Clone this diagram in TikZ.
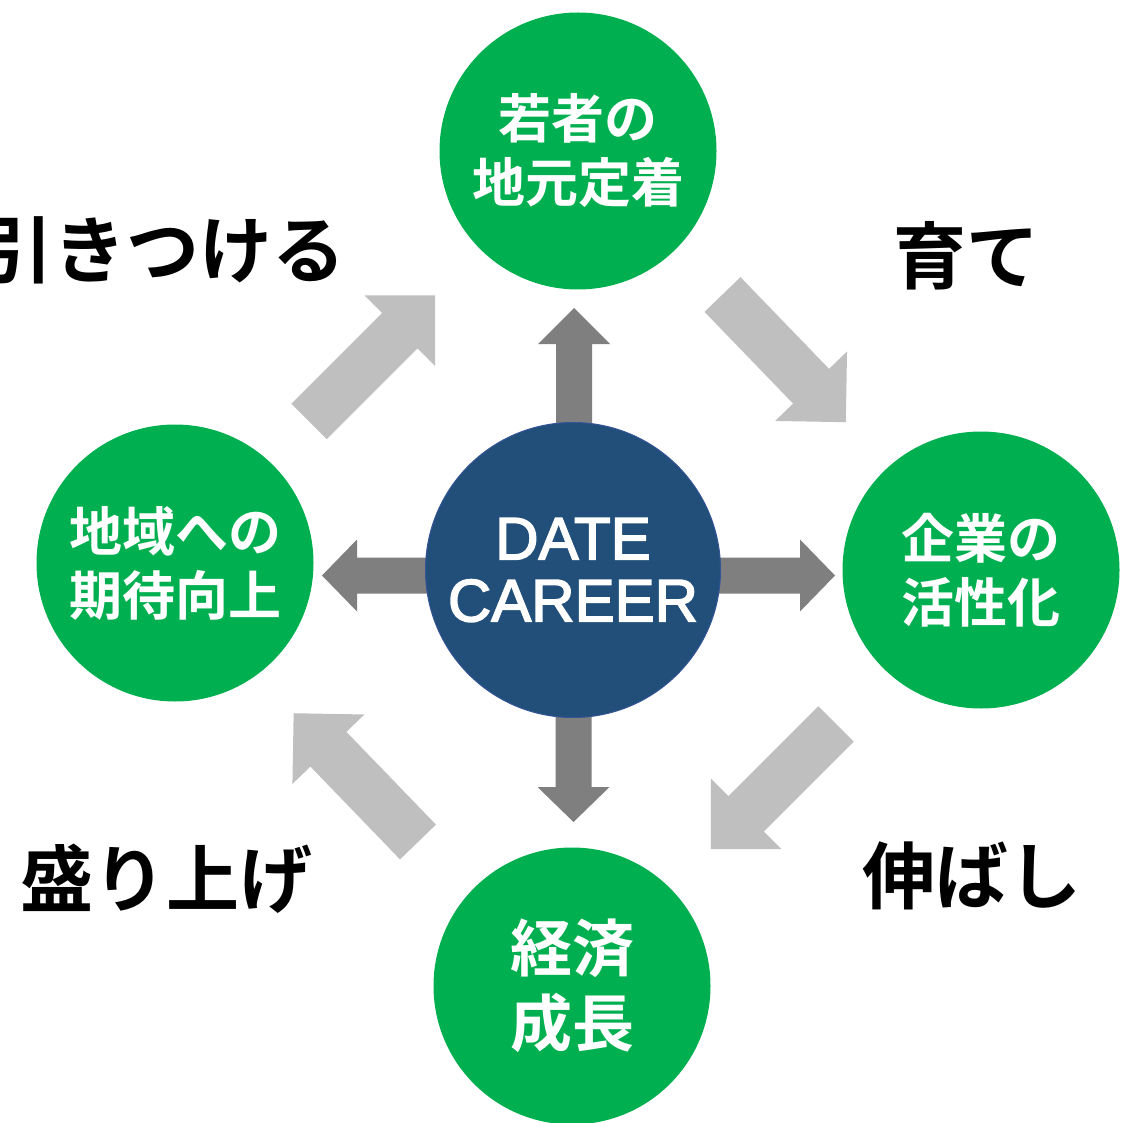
\documentclass[tikz,border=0pt]{standalone}
\usepackage{fontspec}
\newfontfamily\jpfont{Noto Sans CJK JP}[UprightFont=* Medium, BoldFont=* Bold]
\newfontfamily\latinfont{Liberation Sans}[FakeBold=2.5]
\usetikzlibrary{calc,backgrounds}
\definecolor{ballgreen}{RGB}{0,176,80}
\definecolor{hubblue}{RGB}{33,79,122}
\definecolor{hubrim}{RGB}{52,84,150}
\definecolor{darkarrow}{RGB}{127,127,127}
\definecolor{lightarrow}{RGB}{191,191,191}
\def\blockarrow[#1](#2)(#3:#4:#5:#6:#7){\fill[#1,shift={(#2)},rotate=#3] (0,-#5) -- ({#4-#7},-#5) -- ({#4-#7},-#6) -- (#4,0) -- ({#4-#7},#6) -- ({#4-#7},#5) -- (0,#5) -- cycle;}
\tikzset{
	greenball/.style={circle, fill=ballgreen, minimum size=277pt, inner sep=0pt, text=white, align=center, font=\jpfont\bfseries\fontsize{53}{64}\selectfont},
	hubball/.style={circle, fill=hubblue, draw=hubrim, line width=1pt, minimum size=295pt, inner sep=0pt, text=white, align=center, font=\latinfont\fontsize{60}{62}\selectfont},
	cue/.style={text=black, font=\jpfont\bfseries\fontsize{73}{80}\selectfont}
}

\begin{document}
\begin{tikzpicture}[x=1pt, y=-1pt]
		%%%%% START %%%%%
		
		\useasboundingbox (0,0) rectangle (1127,1123);
		
		\node[greenball] (youth) at (578,151) {若者の\\地元定着};
		\node[greenball] (region) at (175,563) {地域への\\期待向上};
		\node[greenball] (business) at (981,570) {企業の\\活性化};
		\node[greenball, font=\jpfont\bfseries\fontsize{62}{75}\selectfont] (economy) at (572,986) {経済\\成長};
		
		\node[hubball] (hub) at (573,570) {DATE\\CAREER};
		
		\node[cue] (attract) at (163,250) {引きつける};
		\node[cue] (raise) at (966,256) {育て};
		\node[cue] (stretch) at (972,876) {伸ばし};
		\node[cue] (liven) at (166,879) {盛り上げ};
		
		\begin{scope}[on background layer]
			\fill[white] (0,0) rectangle (1127,1123);
			
			% out of the hub
			\blockarrow[darkarrow]($(hub.center)+(1,0)$)(90:262:18:36:36);
			\blockarrow[darkarrow]($(hub.center)+(0.5,0)$)(-90:252:18:36:35);
			\blockarrow[darkarrow]($(hub.center)+(0,5.5)$)(180:251:18:36:35);
			\blockarrow[darkarrow]($(hub.center)+(0,5.5)$)(0:262:18:36:35);
			
			% round the ring
			\blockarrow[lightarrow](309,421.5)(45:178.5:25:50:50);
			\blockarrow[lightarrow](722.5,294.5)(-46:177.5:25:50:50);
			\blockarrow[lightarrow](836,724)(-135:177:25:50:50);
			\blockarrow[lightarrow](418,842)(134:179:25:50:50);
		\end{scope}
		
		%%%%% END %%%%%
	\end{tikzpicture}
\end{document}
